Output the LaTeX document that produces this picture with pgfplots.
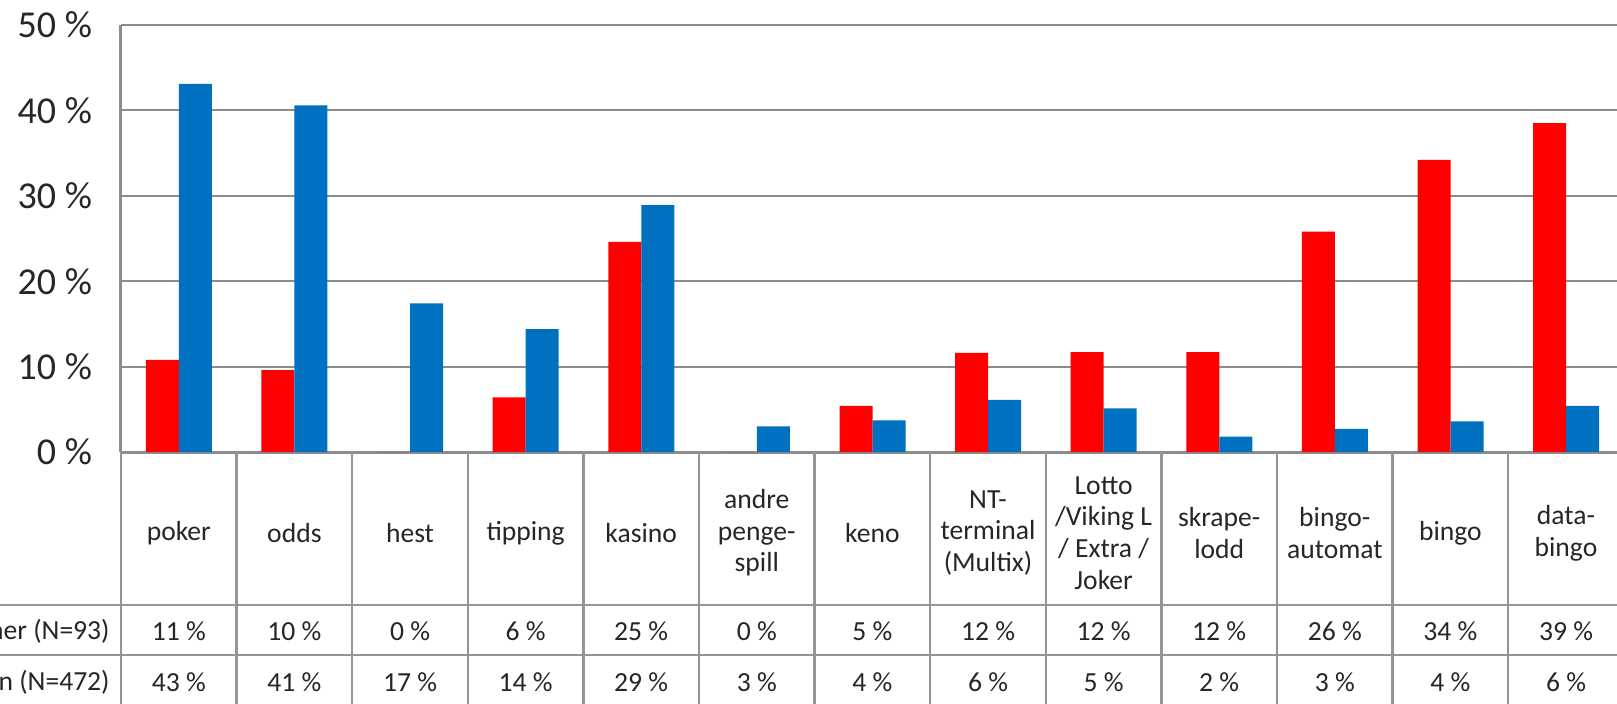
\documentclass[border=0pt]{standalone}
\usepackage{pgfplots}
\usepackage{pgfplotstable}
\pgfplotsset{compat=1.18}
\usepackage{fontspec}
\setmainfont{Carlito}
\definecolor{rd}{HTML}{FF0000}
\definecolor{bl}{HTML}{0070C0}
\definecolor{gl}{HTML}{8C8C8C}
\definecolor{tl}{HTML}{959595}
\definecolor{tx}{HTML}{262626}

\pgfplotstableread{
x women men
0 10.8 43.1
1 9.6 40.6
2 0 17.4
3 6.4 14.4
4 24.6 28.9
5 0 3.0
6 5.4 3.7
7 11.6 6.1
8 11.7 5.1
9 11.7 1.8
10 25.8 2.7
11 34.2 3.6
12 38.5 5.4
}\datatab

\begin{document}
\begin{tikzpicture}[x=1pt,y=1pt]
\path[use as bounding box] (0pt,0pt) rectangle (808.5pt,351.5pt);
\clip (0pt,0pt) rectangle (808.5pt,351.5pt);
\begin{axis}[
  at={(60.5pt,125.5pt)}, anchor=south west,
  scale only axis, width=751.5pt, height=213.5pt,
  xmin=-0.5, xmax=12.5, ymin=0, ymax=50,
  ybar=0pt, bar width=16.5pt,
  axis lines*=left,
  axis line style={gl, line width=1.5pt},
  xtick=\empty,
  ytick={0,10,20,30,40,50},
  yticklabels={0 \%,10 \%,20 \%,30 \%,40 \%,50 \%},
  major tick length=0pt,
  ymajorgrids, grid style={gl, line width=1pt},
  yticklabel style={font=\fontsize{19}{22}\selectfont, text=tx, xshift=-11pt},
  clip=false,
]
\addplot[fill=rd, draw=none] table[x=x, y=women] {\datatab};
\addplot[fill=bl, draw=none] table[x=x, y=men] {\datatab};
\end{axis}
% data table below the chart
\foreach \k in {0,...,13} \draw[tl, line width=1.2pt] ({(60.5+57.8*\k)*1pt},125.5pt) -- ({(60.5+57.8*\k)*1pt},-2pt);
\draw[tl, line width=1.2pt] (0pt,49pt) -- (808.5pt,49pt);
\draw[tl, line width=1.2pt] (0pt,24pt) -- (808.5pt,24pt);
\foreach \lab [count=\i from 0] in {poker, odds, hest, tipping, kasino, {andre\\penge-\\spill}, keno, {NT-\\terminal\\(Multix)}, {Lotto\\/Viking L\\/ Extra /\\Joker}, {skrape-\\lodd}, {bingo-\\automat}, bingo, {data-\\bingo}}
  \node[align=center, text=tx, font=\fontsize{13.8}{15.8}\selectfont] at ({(60.5+57.8*(\i+0.5))*1pt},85pt) {\lab};
\foreach \v [count=\i from 0] in {11,10,0,6,25,0,5,12,12,12,26,34,39}
  \node[text=tx, font=\fontsize{13.8}{15.8}\selectfont] at ({(60.5+57.8*(\i+0.5))*1pt},36pt) {\v~\%};
\foreach \v [count=\i from 0] in {43,41,17,14,29,3,4,6,5,2,3,4,6}
  \node[text=tx, font=\fontsize{13.8}{15.8}\selectfont] at ({(60.5+57.8*(\i+0.5))*1pt},10.5pt) {\v~\%};
\node[anchor=east, text=tx, font=\fontsize{13.8}{15.8}\selectfont, inner sep=0pt] at (55pt,36pt) {Kvinner (N=93)};
\node[anchor=east, text=tx, font=\fontsize{13.8}{15.8}\selectfont, inner sep=0pt] at (55pt,10.5pt) {Menn (N=472)};
\end{tikzpicture}
\end{document}
